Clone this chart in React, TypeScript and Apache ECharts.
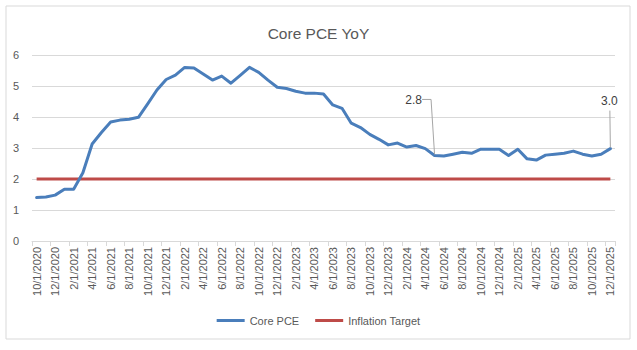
import React, { useEffect, useRef } from "react";
import * as echarts from "echarts";

const categories: string[] = [
  "10/1/2020", "11/1/2020", "12/1/2020",
  "1/1/2021", "2/1/2021", "3/1/2021", "4/1/2021", "5/1/2021", "6/1/2021", "7/1/2021", "8/1/2021", "9/1/2021", "10/1/2021", "11/1/2021", "12/1/2021",
  "1/1/2022", "2/1/2022", "3/1/2022", "4/1/2022", "5/1/2022", "6/1/2022", "7/1/2022", "8/1/2022", "9/1/2022", "10/1/2022", "11/1/2022", "12/1/2022",
  "1/1/2023", "2/1/2023", "3/1/2023", "4/1/2023", "5/1/2023", "6/1/2023", "7/1/2023", "8/1/2023", "9/1/2023", "10/1/2023", "11/1/2023", "12/1/2023",
  "1/1/2024", "2/1/2024", "3/1/2024", "4/1/2024", "5/1/2024", "6/1/2024", "7/1/2024", "8/1/2024", "9/1/2024", "10/1/2024", "11/1/2024", "12/1/2024",
  "1/1/2025", "2/1/2025", "3/1/2025", "4/1/2025", "5/1/2025", "6/1/2025", "7/1/2025", "8/1/2025", "9/1/2025", "10/1/2025", "11/1/2025", "12/1/2025",
];

const corePce: number[] = [
  1.4, 1.42, 1.48,
  1.67, 1.67, 2.2, 3.13, 3.5, 3.84, 3.9, 3.93, 3.99, 4.42, 4.87, 5.21,
  5.35, 5.6, 5.58, 5.39, 5.19, 5.32, 5.09, 5.34, 5.6, 5.44, 5.19, 4.96,
  4.92, 4.83, 4.77, 4.77, 4.74, 4.39, 4.28, 3.8, 3.66, 3.44, 3.28, 3.1,
  3.16, 3.03, 3.08, 2.98, 2.76, 2.74, 2.8, 2.86, 2.83, 2.96, 2.96, 2.96,
  2.76, 2.96, 2.65, 2.61, 2.77, 2.8, 2.83, 2.9, 2.8, 2.74, 2.8, 2.98,
];

const inflationTarget: number[] = categories.map(() => 2);

const labeledIndices: number[] = [43, 62];

const yTicks = { min: 0, max: 6, interval: 1 };

const FONT = "'Liberation Sans', Arial, sans-serif";
const TEXT = "#595959";
const GRID = "#D9D9D9";
const LEADER = "#A6A6A6";

export default function App() {
  const ref = useRef<HTMLDivElement>(null);

  useEffect(() => {
    if (!ref.current) return;
    const chart = echarts.init(ref.current, undefined, { renderer: "svg" });

    const coreData = corePce.map((v, i) =>
      labeledIndices.includes(i)
        ? {
            value: v,
            label: {
              show: true,
              position: "top",
              formatter: (p: any) => Number(p.value).toFixed(1),
              color: "#404040",
              fontSize: 12,
              fontFamily: FONT,
            },
          }
        : v
    );

    const border = {
      id: "border",
      type: "rect",
      shape: { x: 6, y: 6, width: 624, height: 333 },
      style: { fill: "none", stroke: GRID, lineWidth: 1 },
      silent: true,
    };

    chart.setOption({
      animation: false,
      backgroundColor: "#ffffff",
      textStyle: { fontFamily: FONT },
      title: {
        text: "Core PCE YoY",
        left: "center",
        top: 20,
        textStyle: { fontSize: 15.5, fontWeight: "normal", color: TEXT, fontFamily: FONT },
      },
      graphic: [border],
      legend: {
        bottom: 19,
        left: "center",
        icon: "rect",
        itemWidth: 28,
        itemHeight: 3,
        itemGap: 16,
        textStyle: { fontSize: 11, color: TEXT, fontFamily: FONT },
        data: ["Core PCE", "Inflation Target"],
      },
      grid: { left: 32, right: 22, top: 55, bottom: 109, containLabel: false },
      xAxis: {
        type: "category",
        data: categories,
        boundaryGap: true,
        axisLine: { show: true, lineStyle: { color: GRID, width: 1 } },
        axisTick: { show: true, interval: 1, length: 5, lineStyle: { color: GRID } },
        axisLabel: {
          interval: 1,
          rotate: 90,
          fontSize: 11,
          color: TEXT,
          margin: 6,
          fontFamily: FONT,
        },
        splitLine: { show: false },
      },
      yAxis: {
        type: "value",
        min: yTicks.min,
        max: yTicks.max,
        interval: yTicks.interval,
        axisLine: { show: false },
        axisTick: { show: false },
        axisLabel: { fontSize: 11, color: TEXT, margin: 13, fontFamily: FONT },
        splitLine: { lineStyle: { color: GRID, width: 1 } },
      },
      series: [
        {
          name: "Core PCE",
          type: "line",
          data: coreData,
          symbol: "circle",
          symbolSize: 1,
          showSymbol: true,
          itemStyle: { color: "#4A7EBB" },
          lineStyle: { color: "#4A7EBB", width: 3, cap: "round", join: "round" },
          label: { show: false },
          labelLayout: (params: any) => {
            if (params.dataIndex === 43) return { dx: -21, dy: -44 };
            if (params.dataIndex === 62) return { dx: -1, dy: -36 };
            return {};
          },
          z: 3,
        },
        {
          name: "Inflation Target",
          type: "line",
          data: inflationTarget,
          symbol: "none",
          showSymbol: false,
          itemStyle: { color: "#BE4B48" },
          lineStyle: { color: "#BE4B48", width: 3 },
          z: 2,
        },
      ],
    });

    // Leader lines anchored to the data points via the chart's own scales
    const p1 = chart.convertToPixel({ seriesIndex: 0 }, [43, corePce[43]]) as number[];
    const p2 = chart.convertToPixel({ seriesIndex: 0 }, [62, corePce[62]]) as number[];
    chart.setOption({
      graphic: [
        border,
        {
          id: "leader1",
          type: "polyline",
          shape: {
            points: [
              [p1[0] - 12.5, p1[1] - 56],
              [p1[0] - 3.5, p1[1] - 56],
              [p1[0], p1[1] - 1],
            ],
          },
          style: { fill: "none", stroke: LEADER, lineWidth: 1 },
          silent: true,
          z: 10,
        },
        {
          id: "leader2",
          type: "polyline",
          shape: {
            points: [
              [p2[0] - 0.5, p2[1] - 38],
              [p2[0], p2[1] - 1],
            ],
          },
          style: { fill: "none", stroke: LEADER, lineWidth: 1 },
          silent: true,
          z: 10,
        },
      ],
    });

    return () => chart.dispose();
  }, []);

  return (
    <div
      ref={ref}
      style={{ position: "absolute", left: 0, top: 0, width: 637, height: 350 }}
    />
  );
}
